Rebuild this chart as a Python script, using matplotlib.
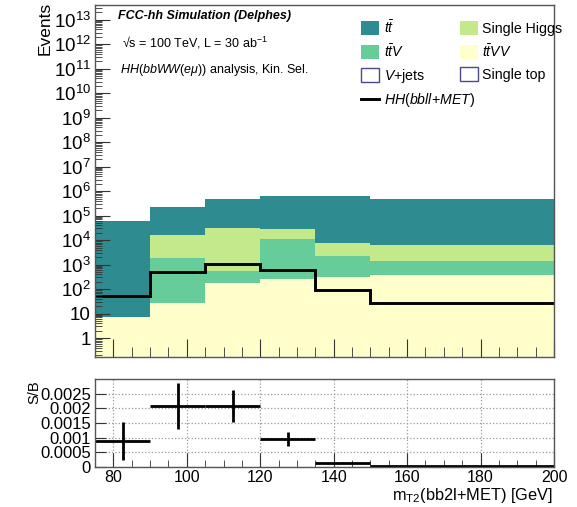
import matplotlib
matplotlib.use("Agg")
import matplotlib.pyplot as plt
import numpy as np
from matplotlib.patches import Patch
from matplotlib.lines import Line2D
from matplotlib.ticker import FixedLocator, MultipleLocator, FuncFormatter, LogLocator, NullFormatter

plt.rcParams['font.family'] = ['Liberation Sans', 'DejaVu Sans']
plt.rcParams['mathtext.fontset'] = 'custom'
plt.rcParams['mathtext.rm'] = 'Liberation Sans'
plt.rcParams['mathtext.it'] = 'Liberation Sans:italic'
plt.rcParams['mathtext.bf'] = 'Liberation Sans:bold'

# m_T2 binning [GeV]
bin_edges = [75, 90, 105, 120, 135, 150, 200]

# background yields per bin (stacked bottom to top)
ttVV = [7.4, 26, 180, 250, 300, 380]
ttV = [0, 1930, 360, 10450, 2000, 1100]
single_higgs = [0, 15000, 29500, 16800, 5250, 5170]
ttbar = [62000, 213000, 470000, 612000, 632000, 483000]
vjets = [0, 0, 0, 0, 0, 0]
single_top = [0, 0, 0, 0, 0, 0]

# signal yields per bin
signal = [55, 490, 1070, 635, 91, 26]

# signal over background with uncertainties
sb = [0.00089, 0.00209, 0.00209, 0.00096, 0.00015, 0.00003]
sb_err = [0.00066, 0.00078, 0.00054, 0.00025, 0.00003, 0.00001]

x_ticks = [80, 100, 120, 140, 160, 180, 200]
sb_ticks = [0, 0.0005, 0.001, 0.0015, 0.002, 0.0025]
sb_tick_labels = ["0", "0.0005", "0.001", "0.0015", "0.002", "0.0025"]

c_tt = '#2e8b8f'
c_ttV = '#66cc99'
c_sh = '#c3e98a'
c_ttVV = '#ffffcc'
c_empty_edge = '#4a4a88'

W, H = 577, 507
fig = plt.figure(figsize=(W / 100, H / 100), dpi=100)


def fx(px):
    return px / W


def fy(py):
    return 1 - py / H


ax1 = fig.add_axes([fx(95), fy(357), fx(459), (357 - 5) / H])
ax2 = fig.add_axes([fx(95), fy(467), fx(459), (467 - 379) / H])

edges = np.array(bin_edges, dtype=float)
ymin, ymax = 0.17, 4e13

layers = [(ttVV, c_ttVV), (ttV, c_ttV), (single_higgs, c_sh), (vjets, 'white'),
          (single_top, 'white'), (ttbar, c_tt)]
cum = np.zeros(len(ttVV))
for vals, col in layers:
    vals = np.asarray(vals, dtype=float)
    top = cum + vals
    lower = np.maximum(cum, ymin * 0.5)
    mask = vals > 0
    if mask.any():
        ax1.stairs(np.where(mask, top, lower), edges, baseline=lower, fill=True,
                   color=col, linewidth=0)
    cum = top

ax1.stairs(signal, edges, baseline=None, color='black', linewidth=2.1)

ax1.set_yscale('log')
ax1.set_ylim(ymin, ymax)
ax1.set_xlim(edges[0], edges[-1])


def log_fmt(v, pos):
    n = int(round(np.log10(v)))
    if n == 0:
        return "1"
    if n == 1:
        return "10"
    return r"$10^{%d}$" % n


ax1.yaxis.set_major_locator(FixedLocator([10.0 ** k for k in range(0, 14)]))
ax1.yaxis.set_major_formatter(FuncFormatter(log_fmt))
ax1.yaxis.set_minor_locator(LogLocator(base=10, subs=np.arange(2, 10), numticks=40))
ax1.yaxis.set_minor_formatter(NullFormatter())
ax1.xaxis.set_major_locator(FixedLocator(x_ticks))
ax1.xaxis.set_minor_locator(MultipleLocator(5))
ax1.tick_params(axis='both', which='both', direction='in', top=False, right=False,
                labelbottom=False, colors='#333333')
ax1.tick_params(axis='y', which='major', length=11, labelsize=13.5, labelcolor='black', pad=3)
ax1.tick_params(axis='y', which='minor', length=5)
ax1.tick_params(axis='x', which='major', length=13)
ax1.tick_params(axis='x', which='minor', length=7)
for s in ax1.spines.values():
    s.set_color('#555555')
    s.set_linewidth(1.0)

fig.text(fx(53), fy(2), "Events", rotation=90, ha='right', va='top', fontsize=12.5)

fig.text(fx(118), fy(16), "FCC-hh Simulation (Delphes)", fontsize=9, fontweight='bold',
         fontstyle='italic', va='center', ha='left')
fig.text(fx(122), fy(43), "√s = 100 TeV, L = 30 ab$^{-1}$", fontsize=9, va='center', ha='left')
fig.text(fx(120), fy(70), r"$\it{HH(bbWW(e\mu))}$ analysis, Kin. Sel.", fontsize=9,
         va='center', ha='left')

h_tt = Patch(facecolor=c_tt, edgecolor='none')
h_ttV = Patch(facecolor=c_ttV, edgecolor='none')
h_vj = Patch(facecolor='white', edgecolor=c_empty_edge, linewidth=1)
h_sh = Patch(facecolor=c_sh, edgecolor='none')
h_ttVV = Patch(facecolor=c_ttVV, edgecolor='none')
h_st = Patch(facecolor='white', edgecolor=c_empty_edge, linewidth=1)
leg1 = ax1.legend([h_tt, h_ttV, h_vj, h_sh, h_ttVV, h_st],
                  [r"$t\bar{t}$", r"$t\bar{t}V$", r"$V$+jets", "Single Higgs",
                   r"$t\bar{t}VV$", "Single top"],
                  ncol=2, frameon=False, fontsize=10.2, loc='upper left',
                  bbox_to_anchor=(fx(361), fy(19)), bbox_transform=fig.transFigure,
                  handlelength=1.3, handleheight=1.2,
                  handletextpad=0.3, columnspacing=2.45, labelspacing=0.5,
                  borderaxespad=0, borderpad=0)
ax1.add_artist(leg1)
leg2 = ax1.legend([Line2D([0], [0], color='black', lw=2.1)],
                  [r"$\it{HH(bbll{+}MET)}$"], frameon=False, fontsize=10.2,
                  loc='upper left', bbox_to_anchor=(fx(361), fy(91)),
                  bbox_transform=fig.transFigure, handlelength=1.3,
                  handletextpad=0.3, borderaxespad=0, borderpad=0)

# ratio panel
centers = 0.5 * (edges[:-1] + edges[1:])
half = 0.5 * (edges[1:] - edges[:-1])
ax2.errorbar(centers, sb, xerr=half, yerr=sb_err, fmt='none', ecolor='black',
             elinewidth=2.0, capsize=0)
ax2.set_xlim(edges[0], edges[-1])
ax2.set_ylim(0, 0.003)
ax2.xaxis.set_major_locator(FixedLocator(x_ticks))
ax2.xaxis.set_minor_locator(MultipleLocator(5))
ax2.yaxis.set_major_locator(FixedLocator(sb_ticks))
ax2.set_yticklabels(sb_tick_labels)
ax2.yaxis.set_minor_locator(MultipleLocator(0.0001))
ax2.grid(True, which='major', linestyle=':', color='#999999', linewidth=0.9)
ax2.tick_params(axis='both', which='both', direction='in', top=False, right=False,
                colors='#333333')
ax2.tick_params(axis='x', which='major', length=10, labelsize=11.5, labelcolor='black', pad=2)
ax2.tick_params(axis='x', which='minor', length=5)
ax2.tick_params(axis='y', which='major', length=8, labelsize=12, labelcolor='black', pad=3)
ax2.tick_params(axis='y', which='minor', length=0)
for s in ax2.spines.values():
    s.set_color('#555555')
    s.set_linewidth(1.0)

fig.text(fx(41), fy(380), "S/B", rotation=90, ha='right', va='top', fontsize=10.5)
fig.text(fx(553), fy(500), r"m$_{\rm T2}$(bb2l+MET) [GeV]", ha='right', va='baseline',
         fontsize=11.8)

fig.savefig("out.png", dpi=100)
